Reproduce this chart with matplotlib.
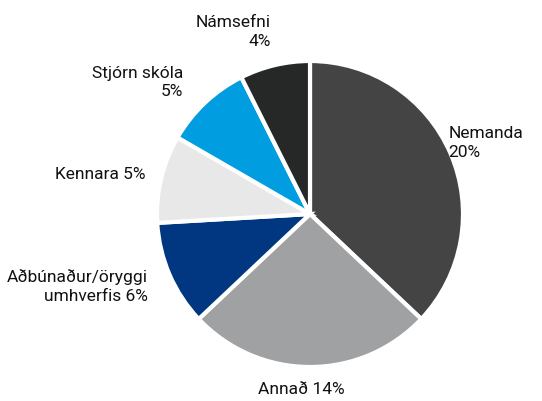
import matplotlib
matplotlib.use("Agg")
import matplotlib.pyplot as plt

# -----------------------------
# Data
# -----------------------------
labels = [
    "Nemanda\n20%",
    "Annað 14%",
    "Aðbúnaður/öryggi\numhverfis 6%",
    "Kennara 5%",
    "Stjórn skóla\n5%",
    "Námsefni\n4%",
]
values = [20, 14, 6, 5, 5, 4]
colors = ["#444444", "#a0a1a3", "#003780", "#e8e8e8", "#009ee0", "#262727"]

# label anchor (x, y, ha) in pie-radius units
label_pos = [
    (0.905, 0.465, "left"),
    (-0.06, -1.15, "center"),
    (-1.06, -0.475, "right"),
    (-1.075, 0.255, "right"),
    (-0.83, 0.86, "right"),
    (-0.255, 1.19, "right"),
]

plt.rcParams["font.family"] = ["Roboto", "DejaVu Sans"]

# -----------------------------
# Figure
# -----------------------------
fig = plt.figure(figsize=(5.42, 4.01), dpi=100)
ax = fig.add_axes([0, 0, 1, 1])

cx, cy, r = 310, 214, 153
ax.pie(
    values,
    colors=colors,
    startangle=90,
    counterclock=False,
    radius=1,
    wedgeprops=dict(edgecolor="white", linewidth=3),
)

for text, (x, y, ha) in zip(labels, label_pos):
    ax.text(x, y, text, ha=ha, va="center", multialignment=ha,
            fontsize=12.5, color="#111111", linespacing=1.3)

ax.set_xlim(-cx / r, (542 - cx) / r)
ax.set_ylim(-(401 - cy) / r, cy / r)
ax.set_aspect("equal")
ax.axis("off")

fig.savefig("out.png", dpi=100, facecolor="white")
